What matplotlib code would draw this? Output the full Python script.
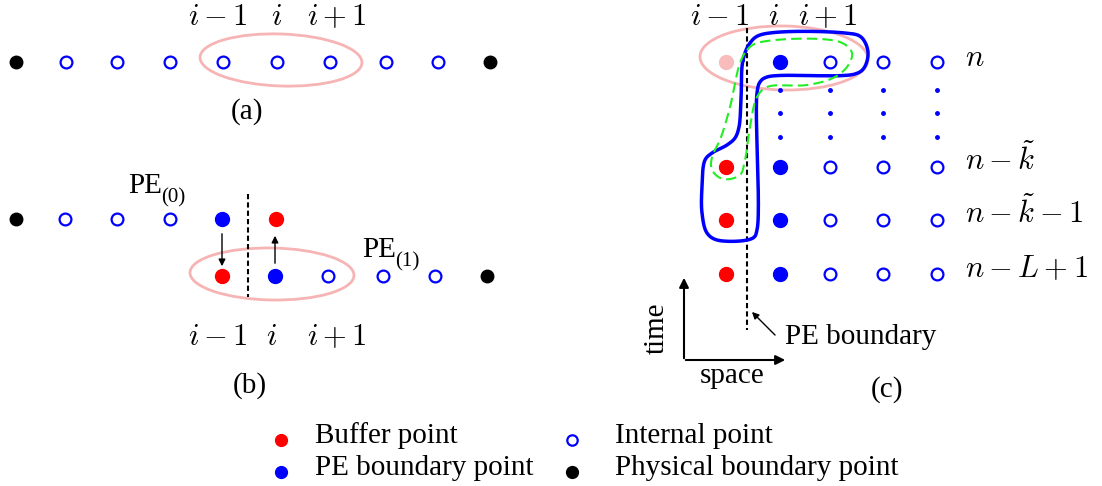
import numpy as np
import matplotlib
matplotlib.use("Agg")
import matplotlib.pyplot as plt
from matplotlib.patches import Ellipse

plt.rcParams['font.family'] = ['Liberation Serif', 'DejaVu Serif']
plt.rcParams['mathtext.fontset'] = 'cm'

BLUE = '#0000ff'
RED = '#ff0000'
PINK = '#f6b4b4'
GREEN = '#22ee22'

# (a) one row of points, kinds: P physical, I internal
row_a_x = [16, 66, 117, 170, 223, 277, 330, 386, 438, 490]
row_a_kind = ['P', 'I', 'I', 'I', 'I', 'I', 'I', 'I', 'I', 'P']

# (b) two PEs, kinds: B buffer, E PE boundary
row_b0_x = [16, 65, 117, 170, 222, 276]
row_b0_kind = ['P', 'I', 'I', 'I', 'E', 'B']
row_b1_x = [222, 275, 328, 383, 435, 487]
row_b1_kind = ['B', 'E', 'I', 'I', 'I', 'P']

# (c) space-time grid
col_c_x = [726, 780, 830, 883, 937]
col_c_kind = ['B', 'E', 'I', 'I', 'I']
row_c_y = [62, 167, 220, 274]
row_c_lab = [r'$n$', r'$n-\tilde{k}$', r'$n-\tilde{k}-1$', r'$n-L+1$']
dots_c_y = [90, 113, 137]

# outlines in (c)
blue_loop = [(743, 60), (750, 43), (760, 35), (845, 33), (861, 37), (868, 52),
             (864, 68), (855, 74), (767, 77), (760, 82), (757, 93), (757, 230),
             (753, 238), (717, 240), (707, 233), (702, 213), (702, 187),
             (705, 160), (712, 153), (727, 145), (735, 138), (739, 127),
             (741, 100)]
green_loop = [(747, 50), (757, 43), (840, 42), (852, 53), (847, 67), (833, 78),
              (807, 85), (767, 87), (757, 97), (750, 127), (745, 160),
              (740, 175), (723, 179), (712, 170), (712, 157), (720, 140),
              (730, 107), (740, 63)]

legend_items = [('B', 'Buffer point'), ('E', 'PE boundary point'),
                ('I', 'Internal point'), ('P', 'Physical boundary point')]

STYLE = {
    'P': dict(marker='o', ms=9, mfc='black', mec='black'),
    'I': dict(marker='o', ms=8.5, mfc='white', mec=BLUE, mew=1.6),
    'E': dict(marker='o', ms=10, mfc=BLUE, mec=BLUE),
    'B': dict(marker='o', ms=10, mfc=RED, mec=RED),
}


def pt(x, y, kind, **kw):
    st = dict(STYLE[kind])
    st.update(kw)
    ax.plot([x], [y], ls='none', zorder=5, **st)


def closed_spline(pts, n=24, alpha=0.5):
    # centripetal Catmull-Rom through the points, closed
    p = np.array(pts, dtype=float)
    m = len(p)
    segs = []
    for k in range(m):
        p0, p1, p2, p3 = p[k - 1], p[k], p[(k + 1) % m], p[(k + 2) % m]
        t0 = 0.0
        t1 = t0 + np.linalg.norm(p1 - p0) ** alpha
        t2 = t1 + np.linalg.norm(p2 - p1) ** alpha
        t3 = t2 + np.linalg.norm(p3 - p2) ** alpha
        t = np.linspace(t1, t2, n, endpoint=False)[:, None]
        a1 = (t1 - t) / (t1 - t0) * p0 + (t - t0) / (t1 - t0) * p1
        a2 = (t2 - t) / (t2 - t1) * p1 + (t - t1) / (t2 - t1) * p2
        a3 = (t3 - t) / (t3 - t2) * p2 + (t - t2) / (t3 - t2) * p3
        b1 = (t2 - t) / (t2 - t0) * a1 + (t - t0) / (t2 - t0) * a2
        b2 = (t3 - t) / (t3 - t1) * a2 + (t - t1) / (t3 - t1) * a3
        segs.append((t2 - t) / (t2 - t1) * b1 + (t - t1) / (t2 - t1) * b2)
    out = np.vstack(segs + [segs[0][:1]])
    return out[:, 0], out[:, 1]


def pe_label(x, y, sub):
    ax.text(x, y, 'PE', fontsize=TXT, ha='left', va='baseline')
    ax.text(x + 33, y + 9, sub, fontsize=TXT * 0.72, ha='left', va='baseline')


fig = plt.figure(figsize=(11.02, 4.86), dpi=100)
ax = fig.add_axes([0, 0, 1, 1])
ax.set_xlim(0, 1102)
ax.set_ylim(486, 0)
ax.axis('off')

MATH = 22
TXT = 21

# ---- (a)
for x, k in zip(row_a_x, row_a_kind):
    pt(x, 62, k)
ax.add_patch(Ellipse((281, 60), 162, 52, angle=2, fill=False, ec=PINK, lw=2))
for s, x in zip([r'$i-1$', r'$i$', r'$i+1$'], [218, 277, 337]):
    ax.text(x, 25, s, fontsize=MATH, ha='center', va='baseline')
ax.text(247, 112, '(a)', fontsize=TXT, ha='center', va='center')

# ---- (b)
for x, k in zip(row_b0_x, row_b0_kind):
    pt(x, 219, k)
for x, k in zip(row_b1_x, row_b1_kind):
    pt(x, 276, k)
ax.plot([248, 248], [194, 297], color='black', ls=(0, (2.5, 1.5)), lw=1.5)
ax.annotate('', xy=(222, 269), xytext=(222, 231),
            arrowprops=dict(arrowstyle='-|>', color='black', lw=1, mutation_scale=10))
ax.annotate('', xy=(275, 233), xytext=(275, 266),
            arrowprops=dict(arrowstyle='-|>', color='black', lw=1, mutation_scale=10))
ax.add_patch(Ellipse((272, 274), 164, 52, angle=1, fill=False, ec=PINK, lw=2))
pe_label(128, 193, '(0)')
pe_label(362, 257, '(1)')
for s, x in zip([r'$i-1$', r'$i$', r'$i+1$'], [218, 272, 337]):
    ax.text(x, 345, s, fontsize=MATH, ha='center', va='baseline')
ax.text(250, 386, '(b)', fontsize=TXT, ha='center', va='center')

# ---- (c)
for r, y in enumerate(row_c_y):
    for x, k in zip(col_c_x, col_c_kind):
        if r == 0 and k == 'B':
            pt(x, y, k, mfc='#f8bcbc', mec='#f8bcbc')
        else:
            pt(x, y, k)
    ax.text(965, y + 4 if r == 0 else y + 3, row_c_lab[r], fontsize=MATH,
            ha='left', va='baseline')
for x in col_c_x[1:]:
    ax.plot([x] * len(dots_c_y), dots_c_y, ls='none', marker='o', ms=2.5,
            color=BLUE)
ax.plot([747, 747], [28, 330], color='black', ls=(0, (2.5, 1.5)), lw=1.5, zorder=3)
ax.add_patch(Ellipse((784, 58), 168, 64, angle=1, fill=False, ec=PINK, lw=2))
bx, by = closed_spline(blue_loop)
ax.plot(bx, by, color=BLUE, lw=2.5, zorder=4)
gx, gy = closed_spline(green_loop)
ax.plot(gx, gy, color=GREEN, lw=1.5, ls=(0, (5, 2.5)), zorder=4)
for s, x in zip([r'$i-1$', r'$i$', r'$i+1$'], [720, 774, 828]):
    ax.text(x, 25, s, fontsize=MATH, ha='center', va='baseline')

# space / time axes
ax.annotate('', xy=(684, 275), xytext=(684, 361),
            arrowprops=dict(arrowstyle='-|>', color='black', lw=1.5, mutation_scale=14))
ax.annotate('', xy=(788, 360), xytext=(683, 360),
            arrowprops=dict(arrowstyle='-|>', color='black', lw=1.5, mutation_scale=14))
ax.text(657, 328, 'time', fontsize=TXT, rotation=90, ha='center', va='center')
ax.text(732, 376, 'space', fontsize=TXT, ha='center', va='center')
ax.annotate('', xy=(750, 310), xytext=(777, 337),
            arrowprops=dict(arrowstyle='-|>', color='black', lw=1, mutation_scale=10))
ax.text(785, 337, 'PE boundary', fontsize=TXT, ha='left', va='center')
ax.text(887, 390, '(c)', fontsize=TXT, ha='center', va='center')

# ---- legend
for i, (k, lab) in enumerate(legend_items):
    lx = 281 if i < 2 else 572
    tx = 315 if i < 2 else 615
    y = 436 if i % 2 == 0 else 468
    st = dict(STYLE[k])
    st['ms'] = 8.5 if k != 'I' else 7.5
    ax.plot([lx], [y + 4], ls='none', **st)
    ax.text(tx, y, lab, fontsize=TXT, ha='left', va='center')

fig.savefig('out.png', dpi=100)
